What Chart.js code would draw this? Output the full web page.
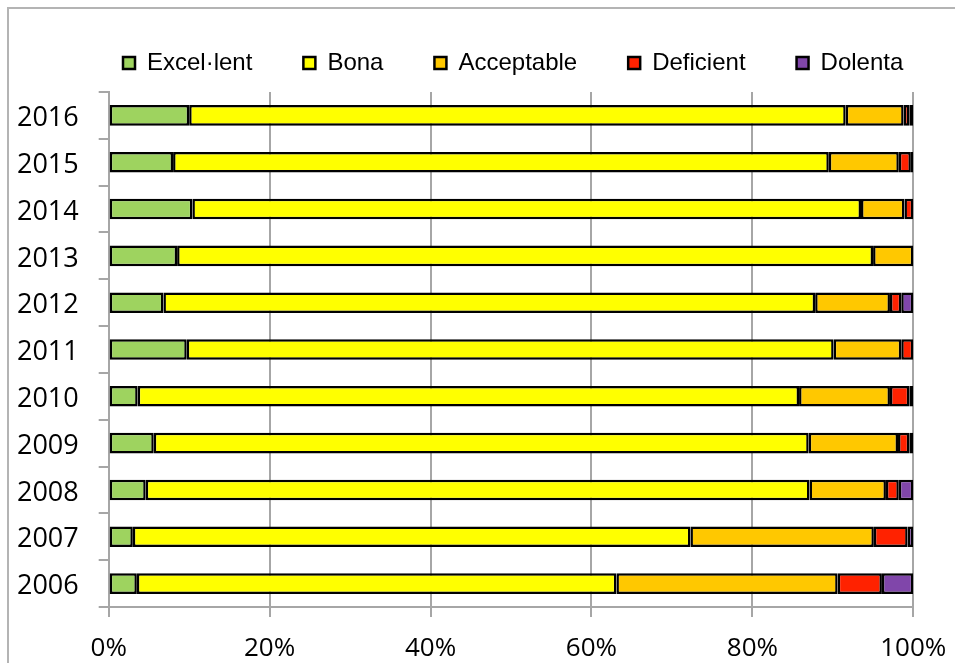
<!DOCTYPE html>
<html>
<head>
<meta charset="utf-8">
<script src="https://cdn.jsdelivr.net/npm/chart.js@4"></script>
<style>
  html, body { margin: 0; padding: 0; background: #fff; }
  #wrap { width: 955px; height: 663px; position: relative; }
</style>
</head>
<body>
<div id="wrap"><canvas id="barChart"></canvas></div>
<script>
const years = ['2016', '2015', '2014', '2013', '2012', '2011', '2010', '2009', '2008', '2007', '2006'];
const excellent = [10.0, 8.0, 10.4, 8.5, 6.8, 9.7, 3.6, 5.6, 4.6, 3.0, 3.5];
const bona = [81.6, 81.5, 83.1, 86.5, 81.0, 80.4, 82.2, 81.4, 82.5, 69.3, 59.6];
const acceptable = [7.2, 8.7, 5.4, 5.0, 9.3, 8.4, 11.3, 11.1, 9.5, 22.8, 27.5];
const deficient = [0.7, 1.5, 1.1, 0, 1.4, 1.5, 2.4, 1.4, 1.6, 4.2, 5.5];
const dolenta = [0.5, 0.3, 0, 0, 1.5, 0, 0.5, 0.5, 1.8, 0.7, 3.9];

const seriesNames = ['Excel·lent', 'Bona', 'Acceptable', 'Deficient', 'Dolenta'];
const seriesColors = ['#9ed35f', '#ffff00', '#ffc800', '#ff2200', '#8046aa'];
const xTicks = [0, 20, 40, 60, 80, 100];

const gridGrey = '#a6a6a6';

// outer frame of the original picture (only top and left edges are visible)
const frame = {
  id: 'frame',
  beforeDraw(chart) {
    const ctx = chart.ctx;
    ctx.save();
    ctx.strokeStyle = '#b4b4b4';
    ctx.lineWidth = 2;
    ctx.strokeRect(8, 8, 2000, 2000);
    ctx.restore();
  }
};

// place the legend like the original: wide gaps, close to the top
const legendPlace = {
  id: 'legendPlace',
  afterInit(chart) {
    const legend = chart.legend;
    const fit = legend.fit.bind(legend);
    legend.fit = function () {
      fit();
      this.height = 90;
    };
  },
  afterLayout(chart) {
    const legend = chart.legend;
    legend.left = 72;
    legend.right = 955;
    legend.top = 0;
  }
};

function createBarChart() {
  const ctx = document.getElementById('barChart');
  const data = [excellent, bona, acceptable, deficient, dolenta];

  new Chart(ctx, {
    type: 'bar',
    data: {
      labels: years,
      datasets: data.map((values, i) => ({
        label: seriesNames[i],
        data: values,
        backgroundColor: seriesColors[i],
        borderColor: '#000',
        borderWidth: 2.5,
        borderSkipped: false,
        barPercentage: 0.44,
        categoryPercentage: 1
      }))
    },
    options: {
      indexAxis: 'y',
      responsive: true,
      maintainAspectRatio: false,
      animation: false,
      layout: { padding: { top: 2, left: 8.7, right: 41.7, bottom: 0 } },
      plugins: {
        legend: {
          position: 'top',
          align: 'start',
          labels: {
            boxWidth: 12,
            boxHeight: 12,
            padding: 51,
            color: '#000',
            font: { family: 'Liberation Sans', size: 24 }
          }
        },
        tooltip: { enabled: false }
      },
      scales: {
        x: {
          stacked: true,
          min: 0,
          max: 100,
          afterFit(scale) {
            scale.height = 56;
            scale.paddingLeft = 0;
            scale.paddingRight = 0;
          },
          afterBuildTicks(scale) { scale.ticks = xTicks.map(v => ({ value: v })); },
          ticks: {
            padding: 16,
            color: '#000',
            font: { family: 'Open Sans', size: 26 },
            callback: v => v + '%'
          },
          grid: { color: gridGrey, lineWidth: 2, tickLength: 10, drawTicks: true },
          border: { color: gridGrey, width: 2 }
        },
        y: {
          stacked: true,
          afterFit(scale) { scale.width = 100; },
          ticks: {
            padding: 20,
            labelOffset: 3,
            color: '#000',
            font: { family: 'Open Sans', size: 27 }
          },
          grid: { color: gridGrey, lineWidth: 2, tickLength: 10, drawOnChartArea: false, offset: true },
          border: { color: gridGrey, width: 2 }
        }
      }
    },
    plugins: [frame, legendPlace]
  });
}

createBarChart();
</script>
</body>
</html>
